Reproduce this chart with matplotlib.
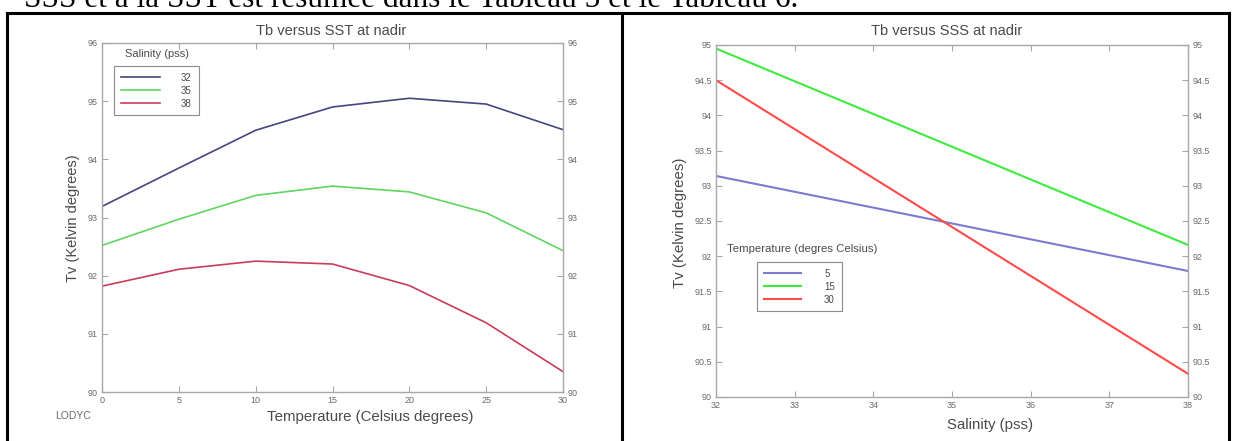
"""Tb versus SST / SSS at nadir: two MATLAB-style panels in a scanned table."""

import matplotlib

matplotlib.use("Agg")
import matplotlib.pyplot as plt
from matplotlib.lines import Line2D

W_PX, H_PX = 1236, 441

# left panel: Tb versus SST, one curve per salinity (pss)
sst_c = [0, 5, 10, 15, 20, 25, 30]
salinity_labels = ["32", "35", "38"]
tb_s32 = [93.19, 93.85, 94.50, 94.90, 95.05, 94.95, 94.51]
tb_s35 = [92.52, 92.97, 93.38, 93.54, 93.44, 93.08, 92.43]
tb_s38 = [91.82, 92.11, 92.25, 92.20, 91.83, 91.19, 90.35]

# right panel: Tb versus SSS, one line per temperature (degres Celsius)
sss_pss = [32, 38]
temperature_labels = ["5", "15", "30"]
tb_t5 = [93.14, 91.79]
tb_t15 = [94.95, 92.16]
tb_t30 = [94.50, 90.33]

sst_ticks = [0, 5, 10, 15, 20, 25, 30]
sst_yticks = [90, 91, 92, 93, 94, 95, 96]
sss_ticks = [32, 33, 34, 35, 36, 37, 38]
sss_yticks = [90, 90.5, 91, 91.5, 92, 92.5, 93, 93.5, 94, 94.5, 95]

TEXT = "#4a4a4a"
TICK = "#6a6a6a"
FRAME = "#a8a8a8"


def fx(px):
    return px / W_PX


def fy(py):
    return 1 - py / H_PX


def make_axes(fig, x0, y0, x1, y1):
    ax = fig.add_axes([fx(x0), fy(y1), fx(x1) - fx(x0), fy(y0) - fy(y1)])
    for spine in ax.spines.values():
        spine.set_color(FRAME)
        spine.set_linewidth(1.0)
    ax.tick_params(
        direction="in",
        length=4,
        width=0.8,
        color=FRAME,
        labelsize=6.5,
        labelcolor=TICK,
        top=True,
        right=True,
        labelright=True,
        pad=3,
    )
    return ax


def fmt(v):
    return f"{v:g}"


def add_legend(ax, fig, x, y, handlelength, handletextpad):
    leg = ax.legend(
        loc="upper left", bbox_to_anchor=(fx(x), fy(y)),
        bbox_transform=fig.transFigure, fontsize=7, frameon=True,
        fancybox=False, edgecolor="#707070", handlelength=handlelength,
        handletextpad=handletextpad, labelspacing=0.3, borderpad=0.7,
        borderaxespad=0,
    )
    leg.get_frame().set_linewidth(0.8)
    for t in leg.get_texts():
        t.set_color(TEXT)
    return leg


def main():
    plt.rcParams["font.family"] = ["Liberation Sans", "DejaVu Sans"]
    fig = plt.figure(figsize=(W_PX / 100, H_PX / 100), dpi=100)
    fig.patch.set_facecolor("white")

    # cut-off line of the surrounding document
    fig.text(
        fx(24), fy(7),
        "SSS et à la SST est résumée dans le Tableau 5 et le Tableau 6.",
        family=["Liberation Serif", "DejaVu Serif"], fontsize=22.5,
        color="black", va="baseline", ha="left",
    )

    # table borders
    for xs, ys in [
        ((7, 7), (13, 441)),
        ((622, 622), (13, 441)),
        ((1229, 1229), (13, 441)),
        ((7, 1229), (13, 13)),
    ]:
        fig.add_artist(Line2D([fx(x) for x in xs], [fy(y) for y in ys],
                              color="black", linewidth=2.2,
                              transform=fig.transFigure))

    # ---- left panel
    ax1 = make_axes(fig, 102, 43, 563, 392)
    ax1.plot(sst_c, tb_s32, color="#45457f", linewidth=1.2, label=salinity_labels[0])
    ax1.plot(sst_c, tb_s35, color="#5fd65f", linewidth=1.2, label=salinity_labels[1])
    ax1.plot(sst_c, tb_s38, color="#c93c58", linewidth=1.2, label=salinity_labels[2])
    ax1.set_xlim(0, 30)
    ax1.set_ylim(90, 96)
    ax1.set_xticks(sst_ticks)
    ax1.set_yticks(sst_yticks)
    ax1.set_xticklabels([fmt(v) for v in sst_ticks])
    ax1.set_yticklabels([fmt(v) for v in sst_yticks])
    fig.text(fx(331), fy(31), "Tb versus SST at nadir", fontsize=10.5,
             color=TEXT, ha="center", va="center")
    fig.text(fx(73), fy(218), "Tv (Kelvin degrees)", fontsize=10.5,
             color=TEXT, ha="center", va="center", rotation=90)
    fig.text(fx(370), fy(417), "Temperature (Celsius degrees)", fontsize=10.8,
             color=TEXT, ha="center", va="center")
    fig.text(fx(55), fy(416), "LODYC", fontsize=7.5, color=TICK,
             ha="left", va="center")
    fig.text(fx(125), fy(54), "Salinity (pss)", fontsize=8, color=TEXT,
             ha="left", va="center")
    add_legend(ax1, fig, 114, 66, 4.0, 2.2)

    # ---- right panel
    ax2 = make_axes(fig, 716, 45, 1188, 397)
    ax2.plot(sss_pss, tb_t5, color="#7b7bd0", linewidth=1.5, label=temperature_labels[0])
    ax2.plot(sss_pss, tb_t15, color="#3fea3f", linewidth=1.5, label=temperature_labels[1])
    ax2.plot(sss_pss, tb_t30, color="#ff4a4a", linewidth=1.5, label=temperature_labels[2])
    ax2.set_xlim(32, 38)
    ax2.set_ylim(90, 95)
    ax2.set_xticks(sss_ticks)
    ax2.set_yticks(sss_yticks)
    ax2.set_xticklabels([fmt(v) for v in sss_ticks])
    ax2.set_yticklabels([fmt(v) for v in sss_yticks])
    fig.text(fx(947), fy(31), "Tb versus SSS at nadir", fontsize=10.5,
             color=TEXT, ha="center", va="center")
    fig.text(fx(680), fy(223), "Tv (Kelvin degrees)", fontsize=10.8,
             color=TEXT, ha="center", va="center", rotation=90)
    fig.text(fx(990), fy(425), "Salinity (pss)", fontsize=10.8,
             color=TEXT, ha="center", va="center")
    fig.text(fx(727), fy(249), "Temperature (degres Celsius)", fontsize=8.2,
             color=TEXT, ha="left", va="center")
    add_legend(ax2, fig, 757, 262, 3.8, 2.4)

    fig.savefig("out.png", dpi=100, facecolor="white")
    plt.close(fig)


if __name__ == "__main__":
    main()
